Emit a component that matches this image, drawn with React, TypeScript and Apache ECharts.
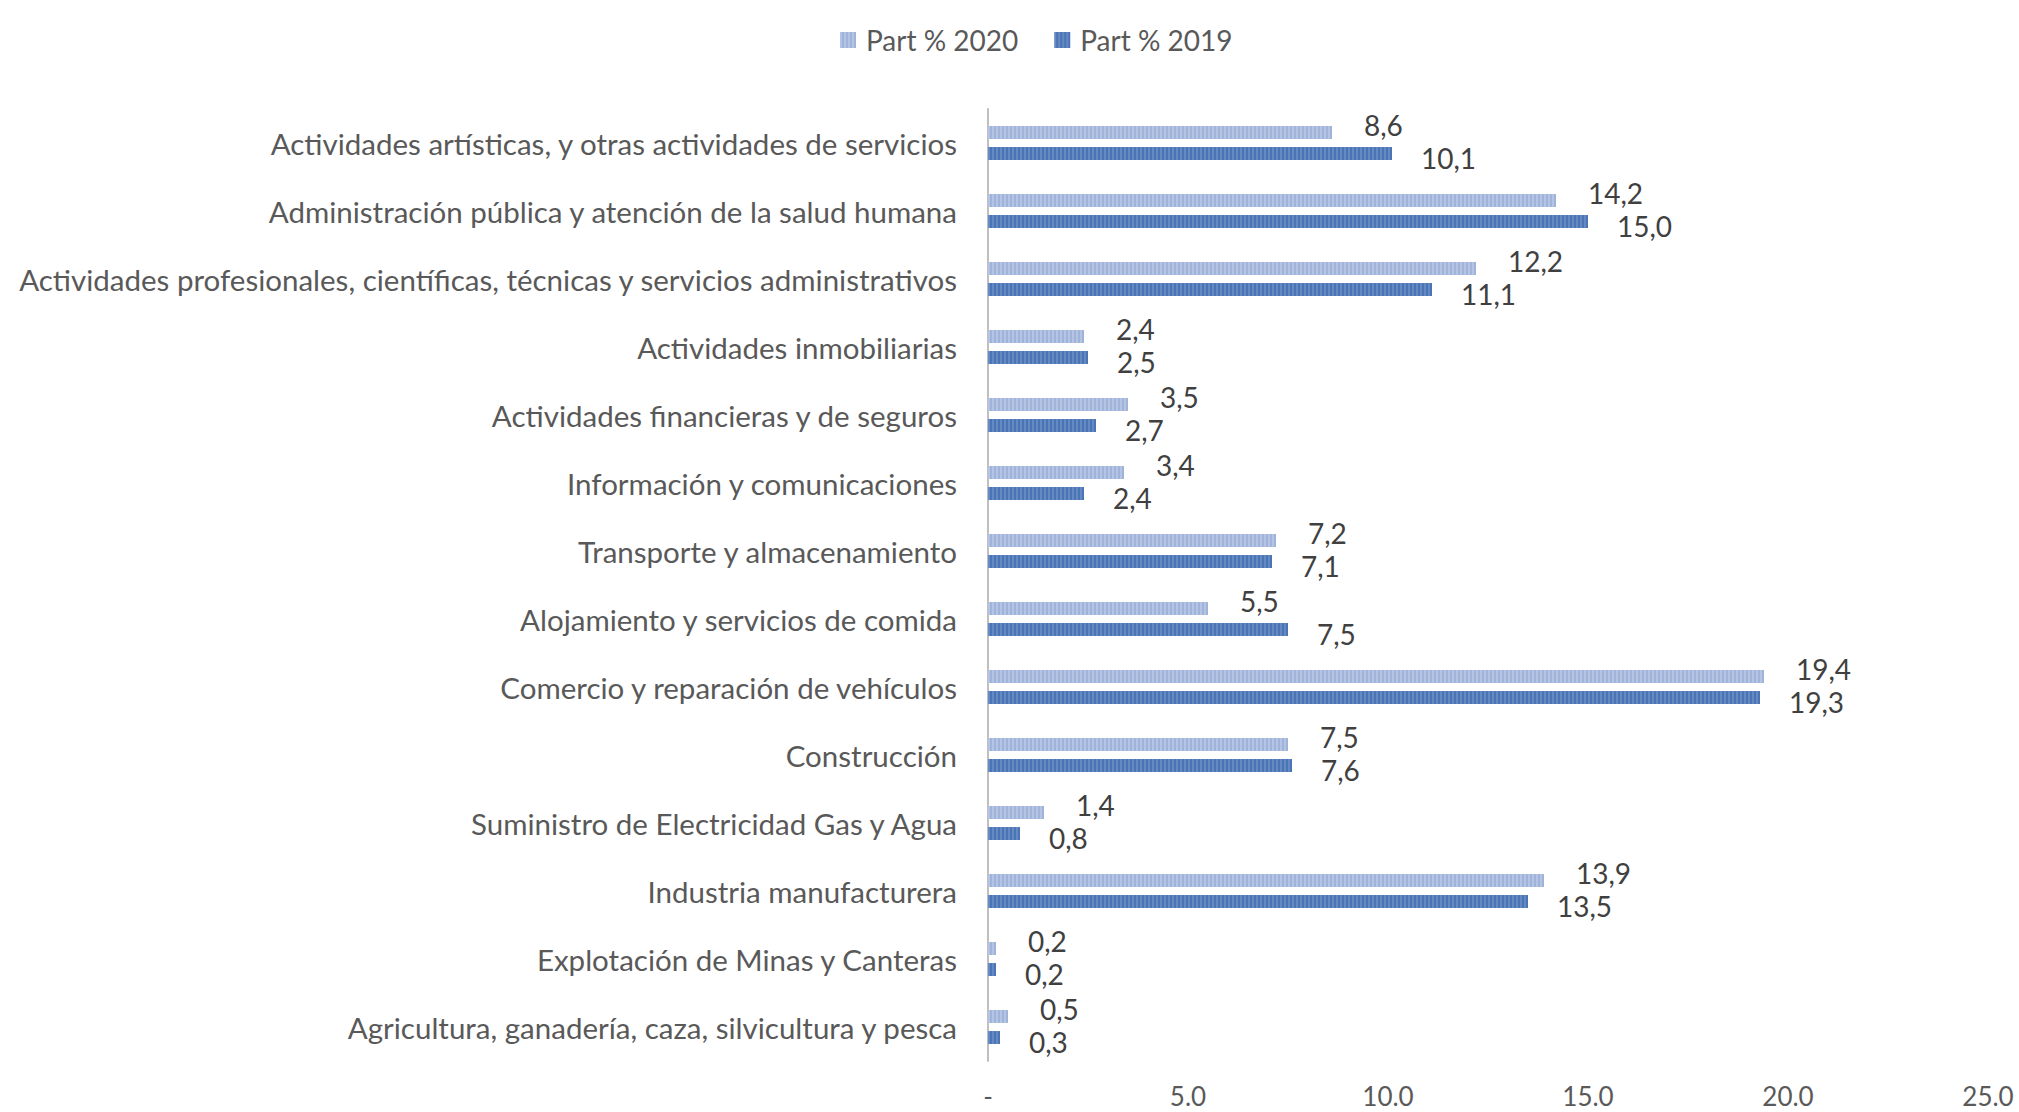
import React, { useEffect, useRef } from "react";
import * as echarts from "echarts";

const categories = [
  "Actividades artísticas, y otras actividades de servicios",
  "Administración pública y atención de la salud humana",
  "Actividades profesionales, científicas, técnicas y servicios administrativos",
  "Actividades inmobiliarias",
  "Actividades financieras y de seguros",
  "Información y comunicaciones",
  "Transporte y almacenamiento",
  "Alojamiento y servicios de comida",
  "Comercio y reparación de vehículos",
  "Construcción",
  "Suministro de Electricidad Gas y Agua",
  "Industria manufacturera",
  "Explotación de Minas y Canteras",
  "Agricultura, ganadería, caza, silvicultura y pesca",
];

const part2020 = [8.6, 14.2, 12.2, 2.4, 3.5, 3.4, 7.2, 5.5, 19.4, 7.5, 1.4, 13.9, 0.2, 0.5];
const part2019 = [10.1, 15.0, 11.1, 2.5, 2.7, 2.4, 7.1, 7.5, 19.3, 7.6, 0.8, 13.5, 0.2, 0.3];

const seriesNames = ["Part % 2020", "Part % 2019"];
const xTicks = { min: 0, max: 25, interval: 5 };

const FONT = "Lato, 'Open Sans', sans-serif";

export default function App() {
  const ref = useRef<HTMLDivElement>(null);

  useEffect(() => {
    if (!ref.current) return;
    const chart = echarts.init(ref.current, undefined, { renderer: "svg" });
    const fmtVal = (p: any) => Number(p.value).toFixed(1).replace(".", ",");
    const stripes = (c: string) => ({
      symbol: "rect",
      symbolSize: 1,
      dashArrayX: [2, 2],
      dashArrayY: [4, 0],
      rotation: 0,
      color: c,
    });
    chart.setOption({
      animation: false,
      backgroundColor: "#ffffff",
      textStyle: { fontFamily: FONT },
      legend: {
        data: seriesNames,
        left: 835,
        top: 21,
        itemWidth: 16,
        itemHeight: 16,
        itemGap: 36,
        icon: "rect",
        textStyle: { fontSize: 28, color: "#595959", fontFamily: FONT, padding: [0, 0, 0, 5] },
      },
      grid: { left: 988, right: 31, top: 109, bottom: 51, containLabel: false },
      xAxis: {
        type: "value",
        min: xTicks.min,
        max: xTicks.max,
        interval: xTicks.interval,
        axisLine: { show: false },
        axisTick: { show: false },
        splitLine: { show: false },
        axisLabel: {
          margin: 22,
          fontSize: 26,
          color: "#595959",
          fontFamily: FONT,
          formatter: (v: number) => (v === 0 ? "-" : v.toFixed(1)),
        },
      },
      yAxis: {
        type: "category",
        data: categories,
        inverse: true,
        axisLine: { show: true, lineStyle: { color: "#bfbfbf", width: 2 } },
        axisTick: { show: false },
        axisLabel: {
          margin: 31,
          fontSize: 29.5,
          color: "#595959",
          fontFamily: FONT,
        },
      },
      series: [
        {
          name: seriesNames[0],
          type: "bar",
          data: part2020,
          barWidth: 13,
          barGap: "62%",
          itemStyle: { color: "#a0b4db", decal: stripes("rgba(255,255,255,0.22)") },
          label: {
            show: true,
            position: "right",
            distance: 32,
            offset: [0, -7],
            fontSize: 28,
            color: "#404040",
            fontFamily: FONT,
            formatter: fmtVal,
          },
        },
        {
          name: seriesNames[1],
          type: "bar",
          data: part2019,
          barWidth: 13,
          barGap: "62%",
          itemStyle: { color: "#4a74b6", decal: stripes("rgba(255,255,255,0.15)") },
          label: {
            show: true,
            position: "right",
            distance: 29,
            offset: [0, 4],
            fontSize: 28,
            color: "#404040",
            fontFamily: FONT,
            formatter: fmtVal,
          },
        },
      ],
    });
    return () => chart.dispose();
  }, []);

  return (
    <div
      ref={ref}
      style={{ position: "fixed", left: 0, top: 0, width: 2019, height: 1112, background: "#fff" }}
    />
  );
}
